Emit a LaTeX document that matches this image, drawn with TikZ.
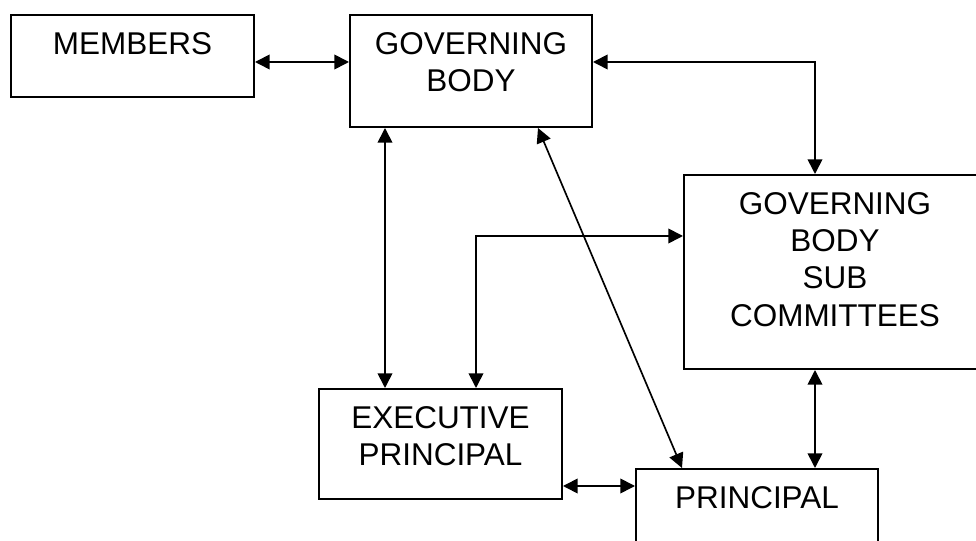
\documentclass[tikz,border=0pt]{standalone}
\usepackage{fontspec}
\setmainfont{Liberation Sans}
\usetikzlibrary{arrows.meta, positioning, calc}

% text block set at the top of a fixed-size box
\newcommand{\boxlines}[3]{\parbox[t][#2][t]{#1}{\centering\rule{0pt}{29.6pt}#3}}

\begin{document}
\begin{tikzpicture}[
    x=0.75pt, y=-0.75pt,
    box/.style={draw, line width=1.5pt, inner sep=0pt, anchor=north west,
        font=\fontsize{23.6pt}{27.9pt}\selectfont},
    arrow/.style={{Triangle[length=11pt, width=11pt]}-{Triangle[length=11pt, width=11pt]}, line width=1.25pt}
]
\useasboundingbox (0,0) rectangle (976,541);

% === NODES ===

\node[box] (members) at (10,14) {\boxlines{182.25pt}{61.5pt}{MEMBERS}};
\node[box] (gb) at (349,14) {\boxlines{181.5pt}{84pt}{GOVERNING\\BODY}};
\node[box] (gbsc) at (683,174) {\boxlines{226.5pt}{145.5pt}{GOVERNING\\BODY\\SUB\\COMMITTEES}};
\node[box] (ep) at (318,388) {\boxlines{182.25pt}{82.5pt}{EXECUTIVE\\PRINCIPAL}};
\node[box] (principal) at (635,468) {\boxlines{181.5pt}{84pt}{PRINCIPAL}};

% routing points
\coordinate (top row) at (300,62);
\coordinate (low row) at (600,486);
\coordinate (right col) at (815,300);
\coordinate (left col) at (385,300);
\coordinate (bend) at (476,236);
\coordinate (diag top) at (538,0);
\coordinate (diag bot) at (682,0);

% === CONNECTORS ===

% members <-> governing body
\draw[arrow] (members.east |- top row) -- (gb.west |- top row);

% governing body <-> sub committees
\draw[arrow] (gb.east |- top row) -| (gbsc.north -| right col);

% governing body <-> executive principal
\draw[arrow] (gb.south -| left col) -- (ep.north -| left col);

% executive principal <-> sub committees
\draw[arrow] (ep.north -| bend) |- (gbsc.west |- bend);

% governing body <-> principal
\draw[arrow] (gb.south -| diag top) -- (principal.north -| diag bot);

% executive principal <-> principal
\draw[arrow] (ep.east |- low row) -- (principal.west |- low row);

% sub committees <-> principal
\draw[arrow] (gbsc.south -| right col) -- (principal.north -| right col);

\end{tikzpicture}
\end{document}
